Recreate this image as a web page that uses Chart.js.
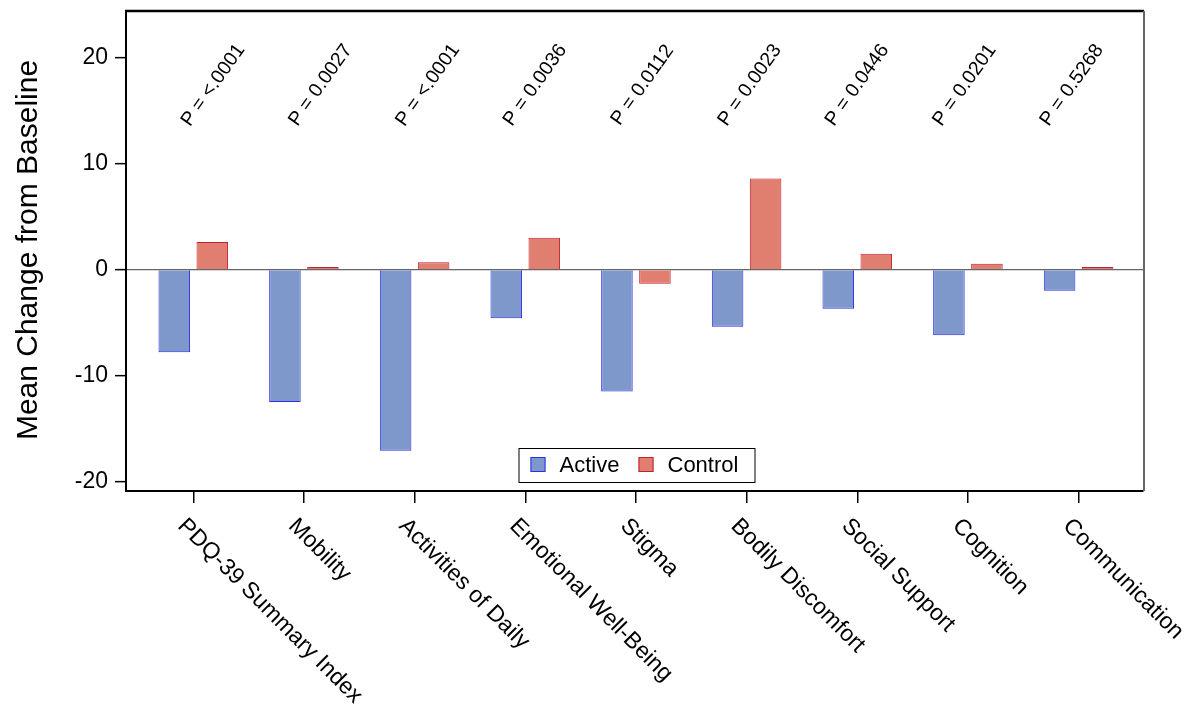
<!DOCTYPE html>
<html>
<head>
<meta charset="utf-8">
<script src="https://cdn.jsdelivr.net/npm/chart.js@4/dist/chart.umd.min.js"></script>
<style>
  body { margin: 0; background: #fff; }
</style>
</head>
<body>
<canvas id="myChart" width="1189" height="709"></canvas>
<script>
// categorias e valores
const categorias = ['PDQ-39 Summary Index', 'Mobility', 'Activities of Daily', 'Emotional Well-Being', 'Stigma', 'Bodily Discomfort', 'Social Support', 'Cognition', 'Communication'];
const listaActive = [-7.8, -12.5, -17.1, -4.6, -11.5, -5.4, -3.7, -6.2, -2.0];
const listaControl = [2.6, 0.25, 0.7, 3.0, -1.35, 8.6, 1.5, 0.55, 0.25];
const listaP = ['P = <.0001', 'P = 0.0027', 'P = <.0001', 'P = 0.0036', 'P = 0.0112', 'P = 0.0023', 'P = 0.0446', 'P = 0.0201', 'P = 0.5268'];
const ticksY = [-20, -10, 0, 10, 20];
const tituloY = 'Mean Change from Baseline';

const fonte = '"Liberation Sans", Arial, Helvetica, sans-serif';
Chart.defaults.font.family = fonte;
Chart.defaults.color = '#000';

const ctx = document.getElementById('myChart');

let dataActive = [];
for (let i = 0; i < listaActive.length; i++) {
  dataActive.push({ x: i, y: listaActive[i] });
}
let dataControl = [];
for (let i = 0; i < listaControl.length; i++) {
  dataControl.push({ x: i, y: listaControl[i] });
}

// moldura, textos rotacionados e legenda
const extras = {
  id: 'extras',
  afterDraw(chart) {
    const c = chart.ctx;
    const area = chart.chartArea;
    const xs = chart.scales.x;
    const ys = chart.scales.y;
    c.save();

    // borda de cima (preta) e da direita (cinza)
    c.strokeStyle = '#000';
    c.lineWidth = 2.5;
    c.beginPath();
    c.moveTo(area.left - 1, area.top);
    c.lineTo(area.right + 1, area.top);
    c.stroke();
    c.strokeStyle = '#666';
    c.lineWidth = 2;
    c.beginPath();
    c.moveTo(area.right + 1, area.top);
    c.lineTo(area.right + 1, area.bottom);
    c.stroke();

    // P valores (inclinados ~54 graus)
    c.fillStyle = '#000';
    c.font = '19.5px ' + fonte;
    c.textAlign = 'center';
    c.textBaseline = 'middle';
    for (let i = 0; i < listaP.length; i++) {
      const px = xs.getPixelForValue(0.18 + 0.97 * i);
      const py = ys.getPixelForValue(17.4);
      c.save();
      c.translate(px, py);
      c.rotate(-54.5 * Math.PI / 180);
      c.fillText(listaP[i], 0, 0);
      c.restore();
    }

    // rotulos do eixo x
    c.font = '23px ' + fonte;
    c.textAlign = 'left';
    c.textBaseline = 'alphabetic';
    for (let i = 0; i < categorias.length; i++) {
      const px = xs.getPixelForValue(i) - 16.5;
      c.save();
      c.translate(px, area.bottom + 36);
      c.rotate(Math.PI / 4);
      c.fillText(categorias[i], 0, 0);
      c.restore();
    }

    // titulo do eixo y
    c.font = '30px ' + fonte;
    c.textAlign = 'center';
    c.save();
    c.translate(37, (area.top + area.bottom) / 2 - 1);
    c.rotate(-Math.PI / 2);
    c.fillText(tituloY, 0, 0);
    c.restore();

    // legenda dentro da area
    const bx = (area.left + area.right) / 2 - 116;
    const by = area.bottom - 43;
    c.strokeStyle = '#000';
    c.lineWidth = 1;
    c.strokeRect(bx + 0.5, by + 0.5, 236, 34);
    c.font = '22px ' + fonte;
    c.textAlign = 'left';
    c.textBaseline = 'middle';
    const offs = [12, 120];
    chart.data.datasets.forEach((ds, k) => {
      const sx = bx + offs[k];
      c.fillStyle = ds.backgroundColor;
      c.fillRect(sx, by + 9, 15, 15);
      c.strokeStyle = ds.borderColor;
      c.strokeRect(sx + 0.5, by + 9.5, 14, 14);
      c.fillStyle = '#000';
      c.fillText(ds.label, sx + 29, by + 18);
    });

    c.restore();
  }
};

new Chart(ctx, {
  type: 'bar',
  data: {
    datasets: [{
      label: 'Active',
      data: dataActive,
      backgroundColor: 'rgb(126, 152, 204)',
      borderColor: 'rgb(45, 45, 230)',
      borderWidth: 1
    },
    {
      label: 'Control',
      data: dataControl,
      backgroundColor: 'rgb(224, 127, 111)',
      borderColor: 'rgb(195, 30, 50)',
      borderWidth: 1
    }
    ]
  },
  options: {
    responsive: false,
    devicePixelRatio: 1,
    animation: false,
    categoryPercentage: 0.687,
    barPercentage: 0.83,
    layout: {
      padding: { top: 11, right: 46, left: 0, bottom: 0 }
    },
    scales: {
      x: {
        type: 'linear',
        offset: false,
        min: -0.608,
        max: 8.582,
        afterBuildTicks: (scale) => {
          scale.ticks = categorias.map((n, i) => ({ value: i }));
        },
        afterFit: (scale) => {
          scale.height = 218;
          scale.paddingLeft = 0;
          scale.paddingRight = 0;
        },
        ticks: { display: false },
        grid: {
          offset: false,
          drawOnChartArea: false,
          tickLength: 12,
          tickColor: '#000',
          lineWidth: 1.5
        },
        border: { color: '#000', width: 2 }
      },
      y: {
        min: -20.9,
        max: 24.4,
        afterBuildTicks: (scale) => {
          scale.ticks = ticksY.map(v => ({ value: v }));
        },
        afterFit: (scale) => {
          scale.width = 126;
          scale.paddingTop = 0;
          scale.paddingBottom = 0;
        },
        ticks: {
          font: { size: 23 },
          padding: 7,
          color: '#000'
        },
        grid: {
          color: (c) => (c.tick && c.tick.value === 0) ? '#666' : 'rgba(0,0,0,0)',
          lineWidth: 1.3,
          tickLength: 11,
          tickColor: '#000',
          tickWidth: 1.5
        },
        border: { color: '#000', width: 2 }
      }
    },
    plugins: {
      legend: { display: false },
      tooltip: { enabled: false }
    }
  },
  plugins: [extras]
});
</script>
</body>
</html>
